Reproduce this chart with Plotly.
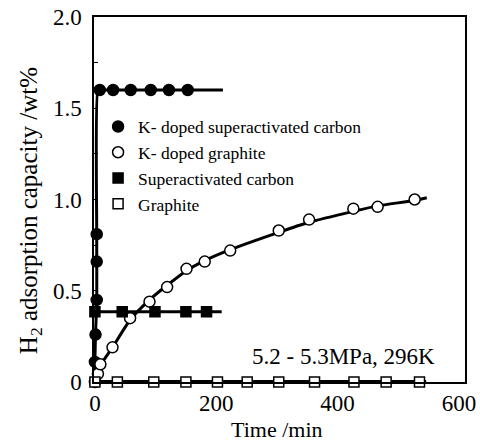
import plotly.graph_objects as go

# K-doped superactivated carbon (filled circles)
ksc_time = [0, 1, 3, 3, 3, 8, 30, 59, 92, 122, 153]
ksc_val = [0.11, 0.26, 0.45, 0.66, 0.81, 1.60, 1.60, 1.60, 1.60, 1.60, 1.60]
ksc_fit_time = [0, 0, 1, 3, 3, 3, 5, 8, 211]
ksc_fit_val = [0, 0.11, 0.26, 0.45, 0.66, 0.81, 1.60, 1.60, 1.60]

# K-doped graphite (open circles)
kg_time = [0, 5, 9, 29, 58, 90, 119, 151, 181, 223, 303, 353, 426, 466, 527]
kg_val = [0, 0.045, 0.097, 0.19, 0.35, 0.44, 0.52, 0.62, 0.66, 0.72, 0.83, 0.89, 0.95, 0.96, 1.00]
kg_fit_time = [0, 9, 29, 58, 90, 119, 151, 181, 223, 303, 353, 426, 466, 527, 547]
kg_fit_val = [0, 0.09, 0.19, 0.34, 0.45, 0.53, 0.61, 0.665, 0.725, 0.82, 0.875, 0.935, 0.965, 0.995, 1.01]

# Superactivated carbon (filled squares)
sc_time = [0, 45, 99, 150, 184]
sc_val = [0.385, 0.385, 0.385, 0.385, 0.385]
sc_fit_time = [0, 209]
sc_fit_val = [0.385, 0.385]

# Graphite (open squares)
g_time = [0, 37, 97, 150, 202, 251, 303, 362, 427, 480, 535]
g_val = [0, 0, 0, 0, 0, 0, 0, 0, 0, 0, 0]
g_fit_time = [0, 546]
g_fit_val = [0, 0]

names = ["K- doped superactivated carbon", "K- doped graphite",
         "Superactivated carbon", "Graphite"]

x_ticks = [0, 200, 400, 600]
y_ticks = [0, 0.5, 1.0, 1.5, 2.0]
y_ticktext = ["0", "0.5", "1.0", "1.5", "2.0"]

FONT = "Liberation Serif, Times New Roman, serif"
fig = go.Figure()

for ft, fv, w in [(g_fit_time, g_fit_val, 4), (sc_fit_time, sc_fit_val, 3),
                  (kg_fit_time, kg_fit_val, 3), (ksc_fit_time, ksc_fit_val, 3)]:
    fig.add_trace(go.Scatter(x=ft, y=fv, mode="lines", showlegend=False,
                             line=dict(color="black", width=w, shape="spline", smoothing=0.6),
                             cliponaxis=False, hoverinfo="skip"))

series = [
    (ksc_time, ksc_val, "circle", "black", 11),
    (kg_time, kg_val, "circle", "white", 11),
    (sc_time, sc_val, "square", "black", 10),
    (g_time, g_val, "square", "white", 10),
]
for (t, v, sym, fill, sz), nm in zip(series, names):
    fig.add_trace(go.Scatter(x=t, y=v, mode="markers", name=nm,
                             marker=dict(symbol=sym, size=sz, color=fill,
                                         line=dict(color="black", width=1.5)),
                             cliponaxis=False))

fig.add_annotation(text="5.2 - 5.3MPa, 296K", x=0.9245, y=0.0685, xref="paper", yref="paper",
                   xanchor="right", yanchor="middle", showarrow=False,
                   font=dict(family=FONT, size=23, color="black"))
fig.add_annotation(text="Time /min", x=0.493, y=-0.1315, xref="paper", yref="paper",
                   xanchor="center", yanchor="middle", showarrow=False,
                   font=dict(family=FONT, size=22, color="black"))
fig.add_annotation(text="H<sub>2</sub> adsorption capacity /wt%", x=-0.1725, y=0.468,
                   xref="paper", yref="paper", textangle=-90,
                   xanchor="center", yanchor="middle", showarrow=False,
                   font=dict(family=FONT, size=25, color="black"))

fig.update_layout(
    width=480, height=443,
    margin=dict(l=94, r=15, t=17, b=61),
    paper_bgcolor="white", plot_bgcolor="white",
    font=dict(family=FONT, color="black"),
    showlegend=True,
    legend=dict(x=0.011, y=0.749, xanchor="left", yanchor="top",
                font=dict(family=FONT, size=17.5, color="black"),
                bgcolor="rgba(0,0,0,0)"),
    xaxis=dict(range=[-1.5, 610], tickvals=x_ticks, ticks="", automargin=False,
               showline=True, linecolor="black", linewidth=1.5, mirror=True,
               showgrid=False, zeroline=False,
               tickfont=dict(family=FONT, size=23)),
    yaxis=dict(range=[0, 2.0], tickvals=y_ticks, ticktext=y_ticktext, automargin=False,
               ticks="inside", ticklen=4, tickcolor="black", ticklabelstandoff=6,
               minor=dict(dtick=0.25, ticks="inside", ticklen=4, tickcolor="black"),
               showline=True, linecolor="black", linewidth=1.5, mirror=True,
               showgrid=False, zeroline=False,
               tickfont=dict(family=FONT, size=23)),
)

fig.write_html("out.html", config={"displayModeBar": False},
               post_script="document.body.style.margin='0';")
